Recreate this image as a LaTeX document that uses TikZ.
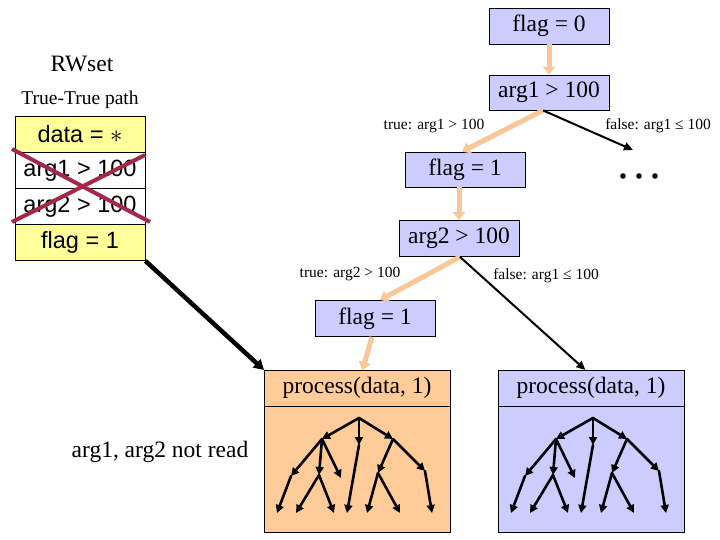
\documentclass[tikz,border=0pt]{standalone}
\usepackage{fontspec}
\setmainfont{Liberation Serif}
\newfontfamily\arialf{Liberation Sans}
\usetikzlibrary{arrows.meta,calc}
\definecolor{lav}{RGB}{204,204,255}
\definecolor{peach}{RGB}{255,204,153}
\definecolor{peacharrow}{RGB}{248,200,152}
\definecolor{yel}{RGB}{255,255,153}
\definecolor{xred}{RGB}{165,40,75}
\newcommand\mytree[2]{%
  \begin{scope}[shift={(#1,0)}]
    \coordinate (#2R) at (359,418);
    \coordinate (#2A) at (322,439);
    \coordinate (#2B) at (359,445);
    \coordinate (#2C) at (393,439);
    \coordinate (#2D) at (291,476);
    \coordinate (#2E) at (319,475);
    \coordinate (#2F) at (341,478);
    \coordinate (#2G) at (378,473);
    \coordinate (#2H) at (425,471);
    \coordinate (#2l1) at (277,513);
    \coordinate (#2l2) at (296,513);
    \coordinate (#2l3) at (334,513);
    \coordinate (#2l4) at (347,513);
    \coordinate (#2l5) at (367,513);
    \coordinate (#2l6) at (400,513);
    \coordinate (#2l7) at (432,513);
  \end{scope}
  \draw[treearrow] (#2R) -- (#2A);
  \draw[treearrow] (#2R) -- (#2B);
  \draw[treearrow] (#2R) -- (#2C);
  \draw[treearrow] (#2A) -- (#2D);
  \draw[treearrow] (#2A) -- (#2E);
  \draw[treearrow] (#2A) -- (#2F);
  \draw[treearrow] (#2C) -- (#2G);
  \draw[treearrow] (#2C) -- (#2H);
  \draw[treearrow] (#2D) -- (#2l1);
  \draw[treearrow] (#2E) -- (#2l2);
  \draw[treearrow] (#2E) -- (#2l3);
  \draw[treearrow] (#2B) -- (#2l4);
  \draw[treearrow] (#2G) -- (#2l5);
  \draw[treearrow] (#2G) -- (#2l6);
  \draw[treearrow] (#2H) -- (#2l7);
}
\begin{document}
\begin{tikzpicture}[x=1pt,y=-1pt,
  bigfont/.style={font=\fontsize{23.5}{28}\selectfont},
  smallfont/.style={font=\fontsize{15.5}{18}\selectfont},
  cbox/.style={draw=black,line width=0.8pt,fill=lav,minimum width=120pt,minimum height=36pt,inner sep=0pt,bigfont},
  trow/.style={draw=black,line width=0.8pt,minimum width=130pt,minimum height=36pt,inner sep=0pt,font=\arialf\fontsize{23.5}{28}\selectfont},
  pbox/.style={draw=black,line width=0.8pt,minimum width=186pt,minimum height=162pt,inner sep=0pt,anchor=north west},
  peachflow/.style={draw=peacharrow,line width=5pt,-{Triangle[length=8pt,width=12pt]}},
  blackflow/.style={draw=black,line width=2pt,-{Triangle[length=9pt,width=8pt]}},
  thickflow/.style={draw=black,line width=4.5pt,-{Triangle[length=10pt,width=11pt]}},
  treearrow/.style={draw=black,line width=2.6pt,line cap=round,-{Triangle[length=8pt,width=8pt]}},
  lbl/.style={smallfont,inner sep=0pt}]
\useasboundingbox (0,0) rectangle (720,540);

% CFG nodes
\node[cbox] (flag0) at (549,26) {flag = 0};
\node[cbox,minimum height=35pt] (arg1) at (549,92.5) {arg1 > 100};
\node[cbox,minimum height=35pt] (flag1a) at (465,169.5) {flag = 1};
\node[cbox] (arg2) at (459,238.5) {arg2 > 100};
\node[cbox] (flag1b) at (375,318.5) {flag = 1};

% dots
\coordinate (dotsin) at (633,150);
\node[inner sep=0pt,minimum width=40pt,minimum height=8pt] (dots) at (639,176) {};
\fill (623,176) circle (2.8pt) (639,176) circle (2.8pt) (655,176) circle (2.8pt);

% process boxes
\node[pbox,fill=peach] (procL) at (264,370) {};
\node[pbox,fill=lav] (procR) at (498,370) {};
\draw[line width=0.8pt] ($(procL.north west)+(0,36)$) -- ($(procL.north east)+(0,36)$);
\draw[line width=0.8pt] ($(procR.north west)+(0,36)$) -- ($(procR.north east)+(0,36)$);
\node[bigfont] (procLt) at (357,388) {process(data, 1)};
\node[bigfont] (procRt) at (591,388) {process(data, 1)};

% trees
\mytree{0}{L}
\mytree{234}{Q}

% labels
\node[lbl] (t1) at (434,126) {true: arg1 > 100};
\node[lbl] (f1) at (658,126) {false: arg1 ≤ 100};
\node[lbl] (t2) at (350,274) {true: arg2 > 100};
\node[lbl] (f2) at (546,276) {false: arg1 ≤ 100};

% flow arrows
\draw[peachflow] (flag0.south) -- (arg1.north);
\draw[peachflow] ([xshift=-6pt]arg1.south) -- ([xshift=-3pt]flag1a.north);
\draw[blackflow] ([xshift=-6pt]arg1.south) -- (dotsin);
\draw[peachflow] ([xshift=-6pt]flag1a.south) -- ([xshift=0pt]arg2.north);
\draw[peachflow] ([xshift=1pt]arg2.south) -- ([xshift=5pt]flag1b.north);
\draw[blackflow] ([xshift=1pt]arg2.south) -- ([xshift=-6pt]procR.north);
\draw[peachflow] ([xshift=-3pt]flag1b.south) -- ([xshift=5pt]procL.north);

% RWset
\node[bigfont] (rw) at (82,64) {RWset};
\node[font=\fontsize{19.5}{23}\selectfont] (tt) at (80,100) {True-True path};
\node[trow,fill=yel] (row1) at (80,134.5) {data = $\ast$};
\node[trow,fill=white] (row2) at (80,170.5) {arg1 > 100};
\node[trow,fill=white] (row3) at (80,206.5) {arg2 > 100};
\node[trow,fill=yel] (row4) at (80,242.5) {flag = 1};
\draw[xred,line width=4pt] (12,149) -- (150,222);
\draw[xred,line width=4pt] (145,155) -- (12,222);

\draw[thickflow] (row4.south east) -- (procL.north west);

\node[bigfont] (nr) at (160,452) {arg1, arg2 not read};
\end{tikzpicture}
\end{document}
